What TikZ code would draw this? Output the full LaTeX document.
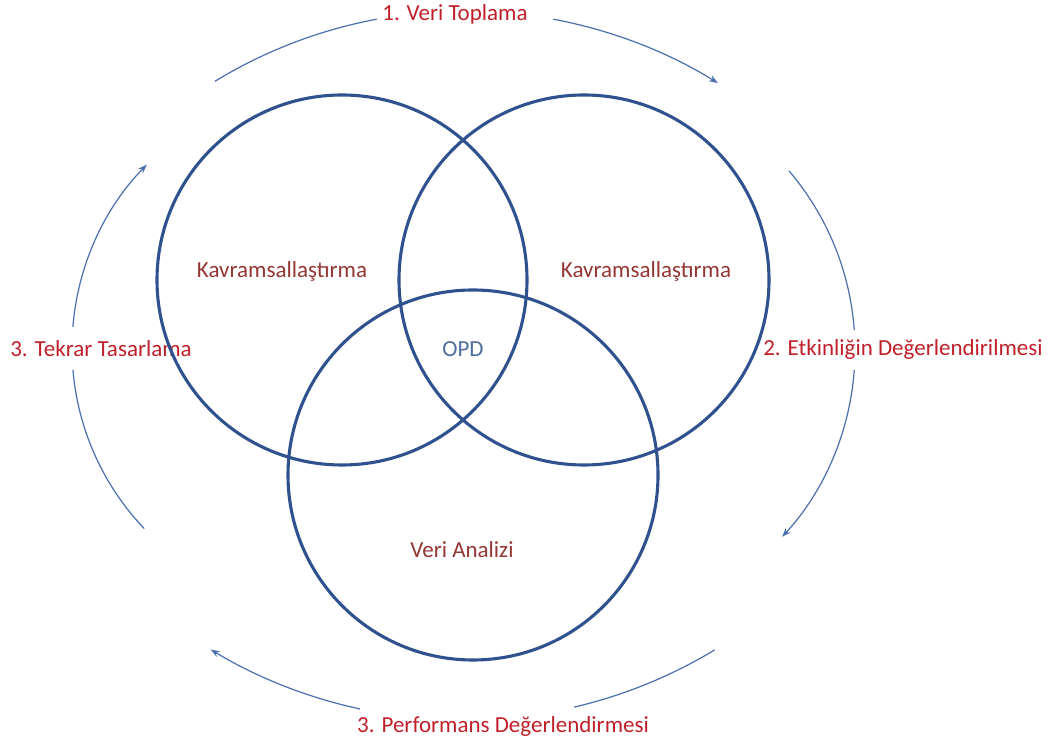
\documentclass[tikz,border=0pt]{standalone}
\usepackage{fontspec}
\setmainfont{Carlito}
\usetikzlibrary{arrows.meta}
\definecolor{ringblue}{HTML}{2F528F}
\definecolor{flowblue}{HTML}{4A6FAE}
\definecolor{steptext}{HTML}{C0202A}
\definecolor{areatext}{HTML}{943634}
\definecolor{coretext}{HTML}{4F6D9E}
\begin{document}
\begin{tikzpicture}[x=1pt,y=1pt,
  ring/.style={draw=ringblue,line width=3.1pt},
  flow/.style={draw=flowblue,line width=1.2pt},
  flowtip/.style={flow,-{Stealth[length=9pt,width=6.5pt]}},
  steplabel/.style={text=steptext,font=\fontsize{23}{27}\selectfont},
  arealabel/.style={text=areatext,font=\fontsize{23}{27}\selectfont},
  corelabel/.style={text=coretext,font=\fontsize{23}{27}\selectfont}]
\fill[white] (0,0) rectangle (1063,747);
\useasboundingbox (0,0) rectangle (1063,747);

% step labels
\node[steplabel] (s1) at (455,733) {1. Veri Toplama};
\node[steplabel] (s2) at (903,398) {2. Etkinliğin Değerlendirilmesi};
\node[steplabel] (s3) at (503,21) {3. Performans Değerlendirmesi};
\node[steplabel] (s4) at (101,398) {3. Tekrar Tasarlama};

% centres of the four arcs of the cycle
\coordinate (ct) at (465,256);
\coordinate (cr) at (579,397);
\coordinate (cb) at (463,514);
\coordinate (cl) at (334,399);

% cycle arrows, clockwise, each broken by its label
\draw[flow] (ct) ++(121.4:480) coordinate (t0)
  arc[start angle=121.4,end angle=100.6,radius=480] coordinate (t1);
\draw[flowtip] (ct) ++(79.4:480) coordinate (t2)
  arc[start angle=79.4,end angle=58.2,radius=480] coordinate (t3);
\draw[flow] (cr) ++(40.5:276) coordinate (r0)
  arc[start angle=40.5,end angle=4.2,radius=276] coordinate (r1);
\draw[flowtip] (cr) ++(-4.2:276) coordinate (r2)
  arc[start angle=-4.2,end angle=-42.6,radius=276] coordinate (r3);
\draw[flow] (cb) ++(-58.9:487) coordinate (b0)
  arc[start angle=-58.9,end angle=-76.8,radius=487] coordinate (b1);
\draw[flowtip] (cb) ++(-102.2:487) coordinate (b2)
  arc[start angle=-102.2,end angle=-121.2,radius=487] coordinate (b3);
\draw[flow] (cl) ++(223.6:262) coordinate (l0)
  arc[start angle=223.6,end angle=184.8,radius=262] coordinate (l1);
\draw[flowtip] (cl) ++(175.4:262) coordinate (l2)
  arc[start angle=175.4,end angle=135.6,radius=262] coordinate (l3);

% the three rings
\node[ring,circle,minimum size=370pt,inner sep=0pt] (rl) at (342,467) {};
\node[ring,circle,minimum size=370pt,inner sep=0pt] (rr) at (584,467) {};
\node[ring,circle,minimum size=370pt,inner sep=0pt] (rb) at (473,272) {};

% ring labels
\node[arealabel] (kl) at (282,476) {Kavramsallaştırma};
\node[arealabel] (kr) at (646,476) {Kavramsallaştırma};
\node[corelabel] (opd) at (463,398) {OPD};
\node[arealabel] (va) at (462,197) {Veri Analizi};
\end{tikzpicture}
\end{document}
